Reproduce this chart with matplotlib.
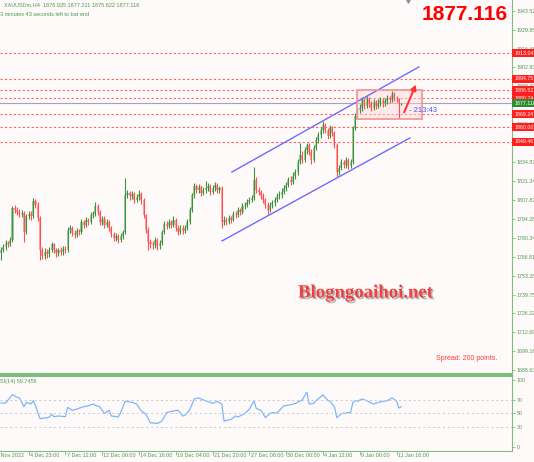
import matplotlib.pyplot as plt
import matplotlib.patheffects as pe
from matplotlib.patches import Rectangle
from matplotlib.transforms import blended_transform_factory

plt.rcParams['font.family'] = ['Liberation Sans', 'DejaVu Sans']

# XAUUSDm H4 candles, bar 0 = first bar at the left edge
first_open = 1769.6
closes = [1771.8, 1773.9, 1776.8, 1776.1, 1779.0, 1802.0, 1800.5, 1799.1, 1797.7, 1798.4,
          1784.7, 1796.2, 1797.7, 1796.2, 1807.0, 1804.1, 1794.8, 1771.8, 1767.5, 1770.4,
          1768.9, 1771.8, 1776.1, 1771.8, 1769.6, 1771.8, 1770.4, 1772.5, 1771.8, 1786.2,
          1787.6, 1784.0, 1782.6, 1785.4, 1784.7, 1791.9, 1789.8, 1793.4, 1791.9, 1796.9,
          1797.7, 1803.4, 1799.1, 1791.9, 1794.1, 1789.8, 1791.9, 1787.6, 1783.3, 1780.4,
          1781.9, 1779.0, 1781.9, 1784.7, 1811.3, 1812.7, 1810.6, 1812.0, 1807.7, 1809.9,
          1812.0, 1807.7, 1796.9, 1786.2, 1777.5, 1776.1, 1775.4, 1779.0, 1774.7, 1776.8,
          1784.7, 1790.5, 1789.0, 1791.9, 1789.8, 1793.4, 1787.6, 1784.7, 1787.6, 1785.4,
          1787.6, 1791.9, 1800.5, 1811.3, 1817.8, 1814.9, 1817.1, 1812.7, 1814.9, 1816.3,
          1817.8, 1813.5, 1816.3, 1818.5, 1814.9, 1816.3, 1791.9, 1793.4, 1791.9, 1794.8,
          1793.4, 1797.7, 1796.9, 1800.5, 1799.1, 1803.4, 1804.1, 1806.3, 1807.7, 1809.2,
          1822.1, 1814.9, 1813.5, 1810.6, 1807.7, 1804.1, 1800.5, 1804.1, 1805.6, 1807.7,
          1810.6, 1811.3, 1813.5, 1816.3, 1818.5, 1822.1, 1820.7, 1825.0, 1827.8, 1835.0,
          1840.0, 1836.5, 1843.6, 1847.2, 1842.2, 1836.5, 1845.1, 1850.8, 1854.4, 1858.0,
          1861.6, 1858.0, 1853.7, 1859.4, 1855.9, 1847.2, 1827.8, 1830.7, 1835.0, 1832.9,
          1836.5, 1832.1, 1835.0, 1859.4, 1868.1, 1872.4, 1873.8, 1879.6, 1875.2, 1880.3,
          1876.7, 1873.8, 1878.1, 1875.2, 1877.4, 1879.6, 1876.7, 1878.8, 1881.0, 1879.6,
          1883.9, 1881.0, 1880.0, 1876.935, 1877.116]
highs = [1774, 1776, 1779, 1778.5, 1781, 1803.5, 1804, 1802.5, 1801, 1800.5,
         1800, 1798, 1800, 1799.5, 1809, 1808.5, 1806, 1796, 1774, 1773,
         1772.5, 1774, 1777.5, 1777, 1773.5, 1773.5, 1774, 1775, 1774.5, 1788,
         1790, 1789, 1786, 1787.5, 1787, 1794, 1793.5, 1795.5, 1795, 1799,
         1800, 1806, 1805, 1800.5, 1796.5, 1796, 1794, 1793, 1789, 1785,
         1784, 1783.5, 1784, 1786.5, 1823.5, 1815, 1814, 1814.5, 1813.5, 1812,
         1815, 1813.5, 1809, 1798, 1788, 1779.5, 1778, 1781, 1780.5, 1779,
         1786.5, 1792.5, 1792.5, 1794, 1793.5, 1796, 1795, 1789.5, 1790, 1789.5,
         1790, 1794, 1802.5, 1813, 1820, 1819.5, 1819, 1818.5, 1817, 1821.5,
         1820, 1819, 1818.5, 1820.5, 1820, 1818, 1817.5, 1796, 1795.5, 1797,
         1796.5, 1800, 1799.5, 1802.5, 1802, 1805.5, 1806.5, 1808.5, 1810, 1811.5,
         1831.4, 1824, 1817, 1815, 1812.5, 1809.5, 1806, 1806, 1808, 1810,
         1812.5, 1814, 1816, 1818.5, 1821, 1824.5, 1825, 1827.5, 1830, 1837.5,
         1848.5, 1843, 1846, 1848.7, 1849, 1844, 1847, 1853, 1856.5, 1860,
         1864.5, 1863, 1859.5, 1861.5, 1861, 1857, 1848.5, 1833, 1837, 1836.5,
         1838.5, 1838, 1837, 1861, 1870, 1874.5, 1876.5, 1882, 1881, 1882.5,
         1882, 1878.5, 1880.5, 1879.5, 1880, 1882, 1881, 1881, 1883.5, 1882.5,
         1886, 1885, 1882.5, 1881, 1877.211]
lows = [1764.6, 1770, 1772, 1774, 1774.5, 1777.5, 1798.5, 1797, 1795.5, 1795.5,
        1777.5, 1783, 1794, 1793.5, 1795, 1802, 1792.5, 1764.6, 1765, 1765.5,
        1766, 1767, 1770, 1769.5, 1767, 1767.5, 1768, 1768.5, 1769.5, 1770.5,
        1784, 1782, 1780.5, 1781, 1782.5, 1783.5, 1787.5, 1788, 1789.5, 1790.5,
        1795, 1796, 1797, 1789.5, 1790, 1787.5, 1788, 1785.5, 1781, 1778,
        1778.5, 1776.5, 1777.5, 1780, 1783, 1809, 1808, 1808.5, 1805.5, 1806,
        1808, 1805, 1795, 1784, 1771.8, 1773, 1772.5, 1773.5, 1772, 1772.5,
        1775.5, 1783, 1787, 1787.5, 1787.5, 1788, 1785.5, 1782.5, 1783, 1783.5,
        1784, 1786, 1790.5, 1799, 1809.5, 1812.5, 1813, 1810.5, 1811, 1813,
        1814.5, 1811.5, 1812, 1814.5, 1813, 1813, 1787.6, 1789.5, 1789.5, 1790.5,
        1791, 1792.5, 1794.5, 1795.5, 1797, 1798, 1801.5, 1802.5, 1804.5, 1806,
        1808, 1813, 1811, 1808.5, 1805.5, 1802, 1796.9, 1799, 1802, 1803.5,
        1806, 1808.5, 1809.5, 1812, 1814.5, 1817, 1818.5, 1819, 1823, 1826,
        1833.5, 1834, 1835, 1841, 1840, 1833.5, 1835, 1843.5, 1849, 1852.5,
        1856, 1856, 1851.5, 1852, 1853.5, 1845, 1824.2, 1826, 1829, 1830.5,
        1831, 1830, 1830.5, 1833.5, 1858, 1866.5, 1870.5, 1872, 1873, 1873.5,
        1874.5, 1871.5, 1872.5, 1873, 1873.5, 1875.5, 1874.5, 1875, 1877, 1877.5,
        1878, 1879, 1878, 1866.6, 1875.822]
opens = [first_open] + closes[:-1]

# RSI(14) read at these bars
rsi_bars = [0, 2, 5, 7, 8, 10, 11, 13, 14, 15, 17, 20, 21, 22, 23, 25, 28, 29, 31, 33,
            34, 36, 38, 40, 41, 43, 45, 47, 48, 51, 52, 54, 57, 59, 61, 63, 65, 68, 70, 72,
            75, 77, 79, 80, 82, 84, 86, 88, 91, 92, 94, 96, 97, 100, 102, 103, 106, 108, 110, 111,
            113, 115, 117, 118, 120, 123, 125, 128, 131, 133, 134, 136, 137, 140, 142, 143, 145, 146, 148, 151,
            152, 153, 154, 155, 157, 159, 162, 164, 168, 170, 171, 172, 173, 174]
rsi_vals = [65.1, 65.1, 77.7, 73.7, 72.7, 59.6, 66.2, 63.6, 68.7, 61.1, 41.9, 43.4, 44.5, 48.5, 45.0, 46.0, 45.0, 58.6, 54.5, 56.1,
            57.6, 59.6, 61.1, 63.6, 62.0, 59.6, 49.5, 54.5, 46.0, 44.5, 51.0, 67.7, 66.2, 63.6, 53.5, 48.5, 35.9, 34.9, 38.4, 51.0,
            53.5, 54.5, 46.0, 47.0, 54.5, 71.2, 72.7, 69.7, 66.2, 64.6, 67.7, 63.6, 38.4, 40.9, 46.0, 44.5, 49.5, 56.1, 68.7, 57.1,
            54.5, 43.4, 50.0, 51.0, 50.5, 61.1, 62.0, 64.6, 69.7, 81.3, 63.6, 64.6, 68.7, 77.2, 69.7, 67.7, 59.6, 43.4, 49.5, 51.0,
            51.0, 66.0, 68.7, 67.7, 71.2, 68.7, 63.6, 66.2, 68.7, 72.7, 70.5, 68.0, 57.6, 59.7456]

price_ticks = [1943.52, 1929.95, 1916.48, 1902.93, 1889.40, 1875.87, 1862.34, 1848.81, 1834.87, 1821.34,
               1807.81, 1794.28, 1780.34, 1766.81, 1753.28, 1739.75, 1726.22, 1712.69, 1699.16, 1685.63]
levels = [1913.04, 1894.75, 1886.52, 1880.74, 1869.24, 1860.00, 1849.46]
bid = 1877.116

date_bars = [-4, 12, 28, 44, 60, 76, 92, 108, 124, 140, 156, 172]
date_labels = ['30 Nov 2022', '4 Dec 23:00', '7 Dec 12:00', '12 Dec 00:00', '14 Dec 16:00', '19 Dec 04:00',
               '21 Dec 20:00', '27 Dec 08:00', '30 Dec 00:00', '4 Jan 12:00', '9 Jan 00:00', '11 Jan 16:00']
rsi_ticks = [100, 70, 50, 30, 0]
rsi_levels = [70, 50, 30]

# drawn objects (bar, price)
chan_upper = ([100.4, 181.7], [1827.8, 1903.3])
chan_lower = ([96.1, 177.8], [1778.3, 1852.3])
range_box = (154.8, 183.0, 1865.9, 1886.7)
arrow_from = (174.8, 1868.8)
arrow_to = (180.9, 1892.5)

GREEN_TXT = '#4e9a4e'
GREEN_LINE = '#7dbd7d'
BG = '#fffafa'

W, H = 534, 462
fig = plt.figure(figsize=(W / 100, H / 100), dpi=100, facecolor=BG)


def px_box(x0, y0, x1, y1):
    return [x0 / W, 1 - y1 / H, (x1 - x0) / W, (y1 - y0) / H]


def ptext(x, y, s, **kw):
    return fig.text(x / W, 1 - y / H, s, **kw)


ax = fig.add_axes(px_box(0, 0, 512, 374))
ax2 = fig.add_axes(px_box(0, 376, 512, 451), sharex=ax)
for a in (ax, ax2):
    a.set_facecolor(BG)
    a.spines['left'].set_visible(False)
    for s in ('right', 'top', 'bottom'):
        a.spines[s].set_color(GREEN_LINE)
ax.spines['top'].set_visible(False)
ax.spines['bottom'].set_linewidth(1.5)
ax2.spines['top'].set_linewidth(1.5)

ax.set_xlim(-0.43, 222.2)
ax.set_ylim(1682.7, 1951.4)
ax2.set_ylim(-5.9, 105.2)

# candles
idx = list(range(len(closes)))
bull = [c >= o for o, c in zip(opens, closes)]
body_col = ['#9fcf9f' if b else '#ffa3a3' for b in bull]
wick_col = ['#3f8f3f' if b else '#ff4f4f' for b in bull]
bottoms = [min(o, c) for o, c in zip(opens, closes)]
heights = [max(abs(c - o), 0.5) for o, c in zip(opens, closes)]
ax.bar(idx, heights, bottom=bottoms, width=0.9, color=body_col, linewidth=0, zorder=3)
ax.vlines(idx, lows, highs, colors=wick_col, linewidth=0.8, zorder=4)

# levels
for lv in levels:
    ax.axhline(lv, color='#ff6060', lw=0.8, ls=(0, (2, 2)), zorder=2)
ax.axhline(bid, color='#9aa6bd', lw=0.8, zorder=2)

ax.plot(*chan_upper, color='#6c6cff', lw=1, zorder=5)
ax.plot(*chan_lower, color='#6c6cff', lw=1, zorder=5)
x0, x1, y0, y1 = range_box
ax.add_patch(Rectangle((x0, y0), x1 - x0, y1 - y0, facecolor='#ffd6d6', alpha=0.45,
                       edgecolor='#f09a9a', lw=1.2, zorder=2))
ax.add_patch(Rectangle((x0, y0), x1 - x0, y1 - y0, facecolor='none',
                       edgecolor='#f09a9a', lw=1.2, zorder=6))
ax.annotate('', xy=arrow_to, xytext=arrow_from,
            arrowprops=dict(arrowstyle='-|>', color='#ff3030', lw=1.4, mutation_scale=8), zorder=7)
ax.text(177.5, 1871.8, '- 213:43', color='#3d5cff', fontsize=5.5, va='center', ha='left', zorder=7)
ax.plot(177, 1950.8, marker='v', color='#8494aa', ms=2.5, clip_on=False, zorder=8)

# right price scale
ax.yaxis.tick_right()
ax.set_yticks(price_ticks)
ax.set_yticklabels([f'{t:.2f}' for t in price_ticks])
ax.tick_params(axis='y', colors=GREEN_LINE, labelcolor=GREEN_TXT, labelsize=3.8, length=2, width=0.6, pad=1.5)
ax.tick_params(axis='x', bottom=False, labelbottom=False)

tr = blended_transform_factory(ax.transAxes, ax.transData)
for lv in levels:
    ax.text(1.004, lv, f'{lv:.2f}', transform=tr, ha='left', va='center', fontsize=3.8, color='white',
            bbox=dict(boxstyle='square,pad=0.3', fc='#ff1f1f', ec='none'), clip_on=False, zorder=9)
ax.text(1.004, bid, f'{bid:.3f}', transform=tr, ha='left', va='center', fontsize=3.8, color='white',
        bbox=dict(boxstyle='square,pad=0.3', fc='#2e8b2e', ec='none'), clip_on=False, zorder=10)

# RSI panel
ax2.plot(rsi_bars, rsi_vals, color='#7cb6ff', lw=0.9)
for lv in rsi_levels:
    ax2.axhline(lv, color='#c8c8c8', lw=0.7, ls=(0, (2, 3)))
ax2.yaxis.tick_right()
ax2.set_yticks(rsi_ticks)
ax2.tick_params(axis='y', colors=GREEN_LINE, labelcolor=GREEN_TXT, labelsize=3.8, length=2, width=0.6, pad=1.5)
ax2.set_xticks(date_bars[1:])
ax2.tick_params(axis='x', colors=GREEN_LINE, length=3, width=0.6, labelbottom=False)
trx = blended_transform_factory(ax2.transData, ax2.transAxes)
for b, lab in zip(date_bars, date_labels):
    ax2.text(b + 0.5, -0.055, lab, transform=trx, ha='left', va='center', fontsize=3.9,
             color=GREEN_TXT, clip_on=False)

# texts
ptext(4, 4.5, f'XAUUSDm,H4  {opens[-1]:.3f} {highs[-1]:.3f} {lows[-1]:.3f} {closes[-1]:.3f}',
      fontsize=4, color=GREEN_TXT, va='center', ha='left')
ptext(-3, 14, '13 minutes 43 seconds left to bar end', fontsize=4, color=GREEN_TXT, va='center', ha='left')
ptext(508, 14, f'{bid:.3f}', fontsize=15, weight='bold', color='#ff0000', va='center', ha='right')
ptext(298, 293, 'Blogngoaihoi.net', family='Liberation Serif', weight='bold', fontsize=13.5,
      color='#ee4040', va='center', ha='left',
      path_effects=[pe.withSimplePatchShadow(offset=(1.2, -1.2), shadow_rgbFace='#777777', alpha=0.55)])
ptext(436, 358, 'Spread: 200 points.', fontsize=5, color='#ff3b3b', va='center', ha='left')
ptext(-4, 381, f'RSI(14) {rsi_vals[-1]:.4f}', fontsize=4, color=GREEN_TXT, va='center', ha='left')

fig.savefig('out.png', dpi=100, facecolor=BG)
